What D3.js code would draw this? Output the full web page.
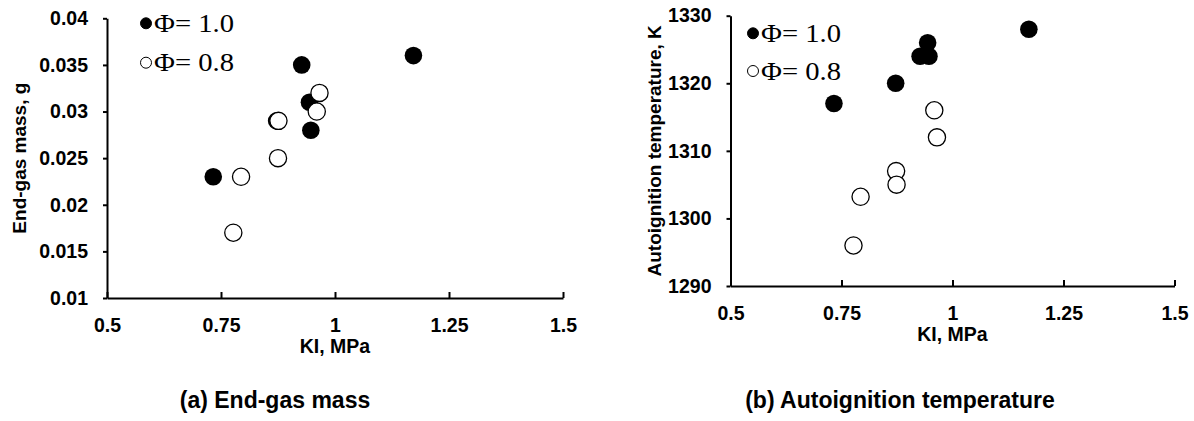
<!DOCTYPE html>
<html>
<head>
<meta charset="utf-8">
<script src="https://cdn.jsdelivr.net/npm/d3@7"></script>
<style>
	body { margin: 0; background: #fff; }
	svg text { font-family: "Liberation Sans", Arial, sans-serif; font-weight: bold; fill: #000; }
	.legend text { font-family: "Liberation Serif", "Times New Roman", serif; font-weight: normal; }
</style>
</head>
<body>
<svg id="fig" width="1194" height="421"></svg>
<script>
// KI values, MPa
let ki_phi10 = [0.733, 0.872, 0.927, 0.944, 0.947, 1.172];
let ki_phi08 = [0.777, 0.794, 0.876, 0.875, 0.960, 0.966];

// (a) end-gas mass, g
let mass_phi10 = [0.023, 0.029, 0.035, 0.031, 0.028, 0.036];
let mass_phi08 = [0.017, 0.023, 0.029, 0.025, 0.030, 0.032];

// (b) autoignition temperature, K  (KI for phi 0.8 is paired in this order)
let ki_phi08_b = [0.777, 0.793, 0.873, 0.874, 0.959, 0.965];
let temp_phi10 = [1317, 1320, 1324, 1326, 1324, 1328];
let temp_phi08 = [1296, 1303.2, 1307, 1305, 1316, 1312];

let xTicks = [0.5, 0.75, 1, 1.25, 1.5];
let massTicks = [0.01, 0.015, 0.02, 0.025, 0.03, 0.035, 0.04];
let tempTicks = [1290, 1300, 1310, 1320, 1330];

let legendLabels = ["\u03A6= 1.0", "\u03A6= 0.8"];

let svg = d3.select("#fig");

function drawPanel(opt) {
	let g = svg.append("g");

	let x = d3.scaleLinear().domain([0.5, 1.5]).range([opt.left, opt.right]);
	let y = d3.scaleLinear().domain(opt.ydomain).range([opt.bottom, opt.top]);

	// x axis, ticks pointing inward
	let xa = g.append("g")
		.attr("transform", "translate(0," + opt.bottom + ")")
		.call(d3.axisBottom(x).tickValues(xTicks).tickSize(-6).tickSizeOuter(0).tickPadding(20)
			.tickFormat((d) => String(d)));

	// y axis, ticks pointing outward
	let ya = g.append("g")
		.attr("transform", "translate(" + opt.left + ",0)")
		.call(d3.axisLeft(y).tickValues(opt.yticks).tickSize(4).tickSizeOuter(0).tickPadding(15)
			.tickFormat((d) => String(+d.toFixed(3))));

	[xa, ya].forEach((a) => {
		a.select(".domain").attr("stroke", "#000").attr("stroke-width", 2);
		a.selectAll(".tick line").attr("stroke", "#000").attr("stroke-width", 2);
		a.selectAll(".tick text").style("font-size", "19.5px").attr("fill", "#000");
	});

	g.append("text")
		.attr("x", (opt.left + opt.right) / 2)
		.attr("y", opt.bottom + 55)
		.attr("text-anchor", "middle")
		.style("font-size", "19.5px")
		.text("KI, MPa");

	g.append("text")
		.attr("transform", "translate(" + opt.ytitleX + "," + ((opt.top + opt.bottom) / 2) + ") rotate(-90)")
		.attr("text-anchor", "middle")
		.style("font-size", "19px")
		.text(opt.ytitle);

	// filled points first, open ones drawn over them
	g.selectAll(".p10")
		.data(opt.xs10.map((d, i) => [d, opt.ys10[i]]))
		.enter()
		.append("circle")
		.attr("cx", (d) => x(d[0]))
		.attr("cy", (d) => y(d[1]))
		.attr("r", 8.8)
		.attr("fill", "#000");

	g.selectAll(".p08")
		.data(opt.xs08.map((d, i) => [d, opt.ys08[i]]))
		.enter()
		.append("circle")
		.attr("cx", (d) => x(d[0]))
		.attr("cy", (d) => y(d[1]))
		.attr("r", 8.6)
		.attr("fill", "#fff")
		.attr("stroke", "#000")
		.attr("stroke-width", 1.3);

	// legend
	let lg = g.append("g").attr("class", "legend");
	legendLabels.forEach((lab, i) => {
		let cy = opt.legendY[i];
		lg.append("circle")
			.attr("cx", opt.legendX)
			.attr("cy", cy)
			.attr("r", 5.5)
			.attr("fill", i == 0 ? "#000" : "#fff")
			.attr("stroke", "#000")
			.attr("stroke-width", 1);
		lg.append("text")
			.attr("x", opt.legendX + 8)
			.attr("y", cy + 8.5)
			.attr("textLength", 80)
			.attr("lengthAdjust", "spacingAndGlyphs")
			.style("font-size", "26px")
			.text(lab);
	});

	svg.append("text")
		.attr("x", opt.captionX)
		.attr("y", 408)
		.attr("text-anchor", "middle")
		.style("font-size", "23px")
		.text(opt.caption);
}

drawPanel({
	left: 107, right: 563, top: 18.3, bottom: 298,
	ydomain: [0.01, 0.04], yticks: massTicks,
	ytitle: "End-gas mass, g", ytitleX: 26,
	xs10: ki_phi10, ys10: mass_phi10,
	xs08: ki_phi08, ys08: mass_phi08,
	legendX: 146, legendY: [23.3, 62.7],
	caption: "(a) End-gas mass", captionX: 275
});

drawPanel({
	left: 730.5, right: 1174.5, top: 15.7, bottom: 286,
	ydomain: [1290, 1330], yticks: tempTicks,
	ytitle: "Autoignition temperature, K", ytitleX: 661,
	xs10: ki_phi10, ys10: temp_phi10,
	xs08: ki_phi08_b, ys08: temp_phi08,
	legendX: 753, legendY: [33.3, 71],
	caption: "(b) Autoignition temperature", captionX: 900
});
</script>
</body>
</html>
